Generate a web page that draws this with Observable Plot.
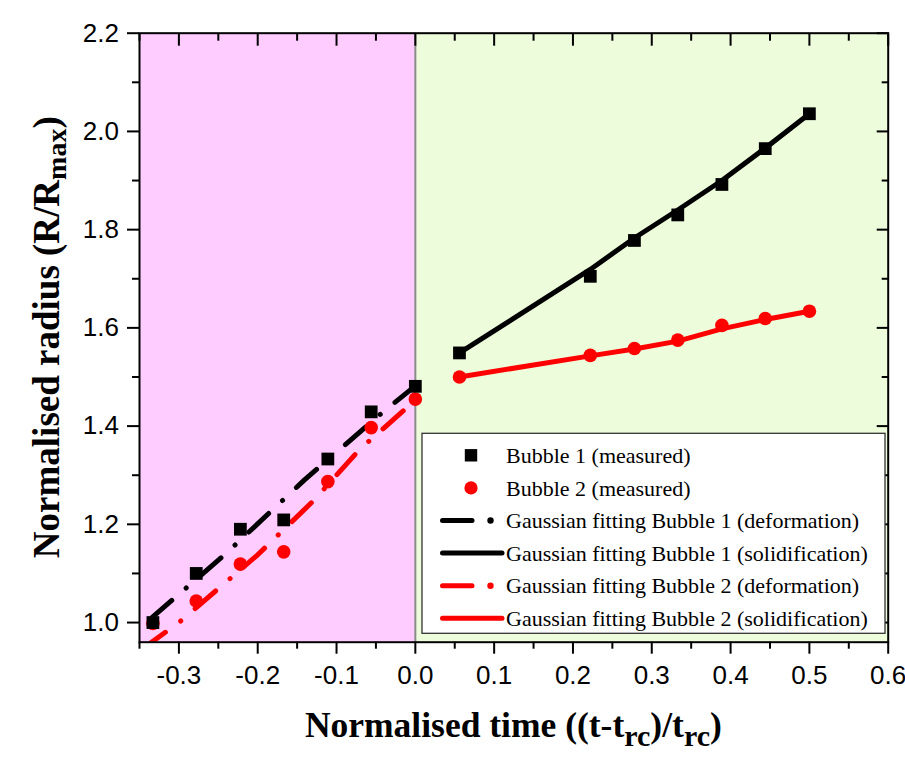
<!DOCTYPE html>
<html><head><meta charset="utf-8">
<script src="https://cdn.jsdelivr.net/npm/d3@7"></script>
<script src="https://cdn.jsdelivr.net/npm/@observablehq/plot@0.6"></script>
<style>html,body{margin:0;padding:0;background:#fff}#chart svg{display:block}</style>
</head><body><div id="chart"></div>
<script>
// ---- data ----
const timeX = [-0.333, -0.278, -0.222, -0.167, -0.111, -0.056, 0, 0.056, 0.222, 0.278, 0.333, 0.389, 0.444, 0.5];
const bubble1Radius = [1.0, 1.10, 1.19, 1.209, 1.333, 1.429, 1.481, 1.549, 1.705, 1.778, 1.830, 1.892, 1.965, 2.036];
const bubble2Radius = [0.998, 1.044, 1.119, 1.144, 1.287, 1.397, 1.455, 1.500, 1.544, 1.558, 1.575, 1.605, 1.619, 1.634];

const fit1DefX = [-0.335, -0.24, -0.141, -0.043, 0];
const fit1DefY = [1.009, 1.141, 1.290, 1.426, 1.482];
const fit1SolX = [0.056, 0.222, 0.278, 0.333, 0.389, 0.444, 0.5];
const fit1SolY = [1.549, 1.719, 1.783, 1.840, 1.900, 1.966, 2.036];
const fit2DefX = [-0.345, -0.3, -0.2, -0.128, -0.071, 0];
const fit2DefY = [0.948, 1.0, 1.138, 1.25, 1.352, 1.453];
const fit2SolX = [0.056, 0.222, 0.278, 0.333, 0.389, 0.444, 0.5];
const fit2SolY = [1.500, 1.543, 1.557, 1.573, 1.598, 1.617, 1.634];

const xDomain = [-0.35, 0.6];
const yDomain = [0.96, 2.2];
const deformationRegion = [{start: -0.35, end: 0}];
const solidificationRegion = [{start: 0, end: 0.6}];
const regionBoundary = [0];

const xMajorTicks = [-0.3, -0.2, -0.1, 0, 0.1, 0.2, 0.3, 0.4, 0.5, 0.6];
const xMinorTicks = [-0.35, -0.25, -0.15, -0.05, 0.05, 0.15, 0.25, 0.35, 0.45, 0.55];
const yMajorTicks = [1.0, 1.2, 1.4, 1.6, 1.8, 2.0, 2.2];
const yMinorTicks = [1.1, 1.3, 1.5, 1.7, 1.9, 2.1];

const legendLabels = [
  "Bubble 1 (measured)",
  "Bubble 2 (measured)",
  "Gaussian fitting Bubble 1 (deformation)",
  "Gaussian fitting Bubble 1 (solidification)",
  "Gaussian fitting Bubble 2 (deformation)",
  "Gaussian fitting Bubble 2 (solidification)"
];
const xTitleParts = [["Normalised time ((t-t", false], ["rc", true], [")/t", false], ["rc", true], [")", false]];
const yTitleParts = [["Normalised radius (R/R", false], ["max", true], [")", false]];

// ---- tables ----
const bubble1 = timeX.map((t, i) => ({t, r: bubble1Radius[i]}));
const bubble2 = timeX.map((t, i) => ({t, r: bubble2Radius[i]}));
const fit1Def = fit1DefX.map((t, i) => ({t, r: fit1DefY[i]}));
const fit1Sol = fit1SolX.map((t, i) => ({t, r: fit1SolY[i]}));
const fit2Def = fit2DefX.map((t, i) => ({t, r: fit2DefY[i]}));
const fit2Sol = fit2SolX.map((t, i) => ({t, r: fit2SolY[i]}));

// ---- styles ----
const W = 905, H = 765;
const M = {top: 32.7, right: 17.3, bottom: 123.3, left: 139};
const tickFont = "'Liberation Sans', Arial, sans-serif";
const serif = "'Liberation Serif', 'Times New Roman', serif";
const dashDot = "27,19,0.1,19";
const fmt = d => d.toFixed(1);

const chart = Plot.plot({
  width: W, height: H,
  marginTop: M.top, marginRight: M.right, marginBottom: M.bottom, marginLeft: M.left,
  x: {domain: xDomain},
  y: {domain: yDomain},
  style: {background: "white", overflow: "visible"},
  marks: [
    Plot.rect(deformationRegion, {x1: "start", x2: "end", y1: () => yDomain[0], y2: () => yDomain[1], fill: "#FFCCFF"}),
    Plot.rect(solidificationRegion, {x1: "start", x2: "end", y1: () => yDomain[0], y2: () => yDomain[1], fill: "#EDFCDB"}),
    Plot.ruleX(regionBoundary, {stroke: "#8a8a8a", strokeWidth: 2}),
    Plot.line(fit1Def, {x: "t", y: "r", stroke: "black", strokeWidth: 5, strokeDasharray: dashDot, strokeLinecap: "round", clip: true}),
    Plot.line(fit2Def, {x: "t", y: "r", stroke: "#FF0000", strokeWidth: 5, strokeDasharray: dashDot, strokeLinecap: "round", clip: true}),
    Plot.line(fit1Sol, {x: "t", y: "r", stroke: "black", strokeWidth: 5, strokeLinecap: "round"}),
    Plot.line(fit2Sol, {x: "t", y: "r", stroke: "#FF0000", strokeWidth: 5, strokeLinecap: "round"}),
    Plot.dot(bubble2, {x: "t", y: "r", symbol: "circle", r: 6.8, fill: "#FF0000", stroke: "none"}),
    Plot.dot(bubble1, {x: "t", y: "r", symbol: "square", r: 7.2, fill: "black", stroke: "none"}),
    Plot.frame({stroke: "black", strokeWidth: 2}),
    // bottom axis (outward ticks)
    Plot.axisX(xMajorTicks, {anchor: "bottom", tickSize: 12, tickPadding: 11.8, strokeWidth: 2, tickFormat: fmt, fontSize: 26, fontFamily: tickFont, fill: "black", label: null}),
    Plot.axisX(xMinorTicks, {anchor: "bottom", tickSize: 7, strokeWidth: 2, tickFormat: () => "", label: null}),
    // top axis (inward ticks)
    Plot.axisX(xMajorTicks, {anchor: "top", tickSize: 12, dy: 12, strokeWidth: 2, tickFormat: () => "", label: null}),
    Plot.axisX(xMinorTicks, {anchor: "top", tickSize: 7, dy: 7, strokeWidth: 2, tickFormat: () => "", label: null}),
    // left axis (outward)
    Plot.axisY(yMajorTicks, {anchor: "left", tickSize: 12, tickPadding: 8.5, strokeWidth: 2, tickFormat: fmt, fontSize: 26, fontFamily: tickFont, fill: "black", label: null}),
    Plot.axisY(yMinorTicks, {anchor: "left", tickSize: 7, strokeWidth: 2, tickFormat: () => "", label: null}),
    // right axis (inward)
    Plot.axisY(yMajorTicks, {anchor: "right", tickSize: 12, dx: -12, strokeWidth: 2, tickFormat: () => "", label: null}),
    Plot.axisY(yMinorTicks, {anchor: "right", tickSize: 7, dx: -7, strokeWidth: 2, tickFormat: () => "", label: null})
  ]
});

document.getElementById("chart").appendChild(chart);
const svg = d3.select(chart);

const frameL = M.left, frameR = W - M.right, frameT = M.top, frameB = H - M.bottom;

// axis titles with subscripts
function addTitle(parts, size, subSize, shift) {
  const t = svg.append("text")
    .attr("font-family", serif).attr("font-weight", "bold")
    .attr("font-size", size).attr("fill", "black").attr("text-anchor", "middle");
  parts.forEach(([s, sub], i) => {
    const prevSub = i > 0 && parts[i - 1][1];
    t.append("tspan").text(s)
      .attr("font-size", sub ? subSize : size)
      .attr("dy", sub ? shift : (prevSub ? -shift : 0));
  });
  return t;
}
addTitle(xTitleParts, 35.5, 30, 9)
  .attr("x", (frameL + frameR) / 2).attr("y", 737);
addTitle(yTitleParts, 37, 28, 7)
  .attr("transform", `translate(59,${(frameT + frameB) / 2}) rotate(-90)`);

// legend
const lgW = 463, lgH = 200;
const lg = svg.append("g").attr("transform", `translate(${frameR - 2.7 - lgW},${frameB - 8.4 - lgH})`);
lg.append("rect").attr("width", lgW).attr("height", lgH).attr("fill", "white").attr("stroke", "#333").attr("stroke-width", 1.3);
const kinds = [
  {type: "square", color: "black"},
  {type: "circle", color: "#FF0000"},
  {type: "dashdot", color: "black"},
  {type: "solid", color: "black"},
  {type: "dashdot", color: "#FF0000"},
  {type: "solid", color: "#FF0000"}
];
legendLabels.forEach((label, i) => {
  const cy = 22 + i * 32.6;
  const k = kinds[i];
  if (k.type === "square") {
    lg.append("rect").attr("x", 49 - 6.2).attr("y", cy - 6.2).attr("width", 12.4).attr("height", 12.4).attr("fill", k.color);
  } else if (k.type === "circle") {
    lg.append("circle").attr("cx", 49).attr("cy", cy).attr("r", 6.6).attr("fill", k.color);
  } else if (k.type === "dashdot") {
    lg.append("line").attr("x1", 20.5).attr("x2", 50).attr("y1", cy).attr("y2", cy)
      .attr("stroke", k.color).attr("stroke-width", 5).attr("stroke-linecap", "round");
    lg.append("circle").attr("cx", 68.5).attr("cy", cy).attr("r", 3.2).attr("fill", k.color);
  } else {
    lg.append("line").attr("x1", 20.5).attr("x2", 80).attr("y1", cy).attr("y2", cy)
      .attr("stroke", k.color).attr("stroke-width", 5).attr("stroke-linecap", "round");
  }
  lg.append("text").attr("x", 84).attr("y", cy).attr("dy", "0.35em").attr("text-anchor", "start")
    .attr("font-family", serif).attr("font-size", 22).attr("fill", "black").text(label);
});
</script>
</body></html>
